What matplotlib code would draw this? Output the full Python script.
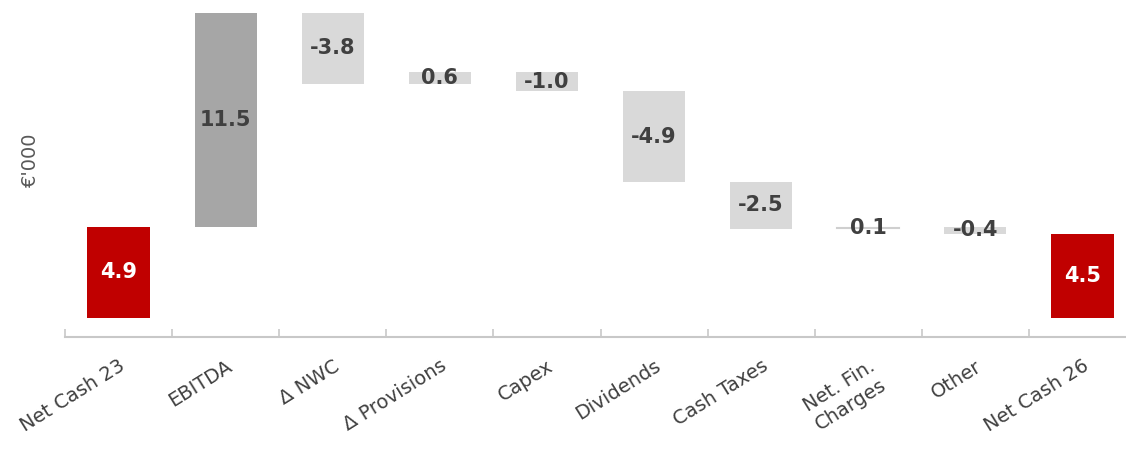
import matplotlib.pyplot as plt
import numpy as np

categories = ["Net Cash 23", "EBITDA", "\u0394 NWC", "\u0394 Provisions", "Capex",
              "Dividends", "Cash Taxes", "Net. Fin.\nCharges", "Other", "Net Cash 26"]
values = [4.9, 11.5, -3.8, 0.6, -1.0, -4.9, -2.5, 0.1, -0.4, 4.5]
kinds = ["total", "delta", "delta", "delta", "delta",
         "delta", "delta", "delta", "delta", "total"]

RED = "#C00000"
DARK = "#A6A6A6"
LIGHT = "#D9D9D9"
TXT = "#404040"

fig = plt.figure(figsize=(11.26, 4.5), dpi=100)
ax = fig.add_axes([65 / 1126, 113 / 450, 1071 / 1126, 337 / 450])

x = np.arange(len(categories))
running = 0.0
for i, (v, k) in enumerate(zip(values, kinds)):
    if k == "total":
        bottom, height = 0.0, v
        color, tcol = RED, "white"
        running = v
    else:
        bottom = running if v >= 0 else running + v
        height = abs(v)
        running += v
        color = DARK if i == 1 else LIGHT
        tcol = TXT
    if k == "delta" and abs(v) <= 0.1:
        # tiny step: drawn as a thin line
        ax.plot([i - 0.29, i + 0.29], [bottom + height / 2] * 2, color="#CFCFCF", lw=1.5)
    else:
        ax.bar(i, height, bottom=bottom, width=0.58, color=color)
    ax.text(i, bottom + height / 2, f"{v:.1f}", ha="center", va="center",
            fontsize=15, fontweight="bold", color=tcol)

ax.set_xlim(-0.5, len(categories) - 0.5)
ax.set_ylim(-1.03, 17.1)
ax.set_yticks([])
for s in ["top", "right", "left"]:
    ax.spines[s].set_visible(False)
ax.spines["bottom"].set_color("#C8C8C8")
ax.spines["bottom"].set_linewidth(1.5)

ax.set_xticks(np.arange(len(categories) + 1) - 0.5, minor=True)
ax.set_xticks(x)
ax.tick_params(axis="x", which="minor", direction="in", length=6, color="#C8C8C8", width=1.2)
ax.tick_params(axis="x", which="major", length=0, pad=14)
ax.set_xticklabels(categories, rotation=32, ha="right", rotation_mode="anchor",
                   fontsize=14, color=TXT, multialignment="center")

fig.text(30 / 1126, 1 - 160 / 450, "\u20ac'000", rotation=90, ha="center", va="center",
         fontsize=14, color="#595959")

fig.savefig("out.png", dpi=100)
